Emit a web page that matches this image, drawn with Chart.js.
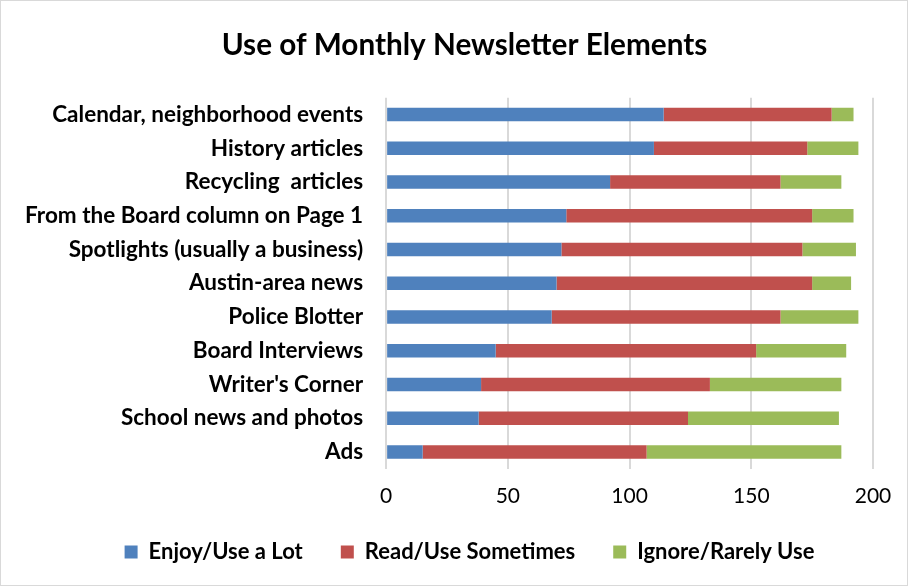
<!DOCTYPE html>
<html>
<head>
<meta charset="utf-8">
<script src="https://cdn.jsdelivr.net/npm/chart.js@4"></script>
<style>
  html, body { margin: 0; padding: 0; background: #fff; }
  #wrap { position: relative; width: 908px; height: 586px; box-sizing: border-box; border: 1px solid #d9d9d9; }
</style>
</head>
<body>
<div id="wrap"><canvas id="chart"></canvas></div>
<script>
// Datos del gráfico
const categories = [
  'Calendar, neighborhood events',
  'History articles',
  'Recycling  articles',
  'From the Board column on Page 1',
  'Spotlights (usually a business)',
  'Austin-area news',
  'Police Blotter',
  'Board Interviews',
  "Writer's Corner",
  'School news and photos',
  'Ads'
];
const enjoyValues = [114, 110, 92, 74, 72, 70, 68, 45, 39, 38, 15];
const readValues = [69, 63, 70, 101, 99, 105, 94, 107, 94, 86, 92];
const ignoreValues = [9, 21, 25, 17, 22, 16, 32, 37, 54, 62, 80];
const xTicks = [0, 50, 100, 150, 200];

const FONT = 'Lato, "Open Sans", sans-serif';
const LEGEND_SHIFT_Y = 21;
const LEGEND_SHIFT_X = 28;
const TITLE_SHIFT_X = 23;

// Ajustes finos: la leyenda ocupa menos alto y título/leyenda se desplazan a la derecha
const tweakPlugin = {
  id: 'tweak',
  beforeInit(chart) {
    const legend = chart.legend;
    const legendFit = legend.fit;
    legend.fit = function () {
      legendFit.call(this);
      this.height -= LEGEND_SHIFT_Y;
    };
    const legendDraw = legend.draw;
    legend.draw = function () {
      this.top -= LEGEND_SHIFT_Y;
      this.left += LEGEND_SHIFT_X;
      this.right += LEGEND_SHIFT_X;
      legendDraw.call(this);
      this.top += LEGEND_SHIFT_Y;
      this.left -= LEGEND_SHIFT_X;
      this.right -= LEGEND_SHIFT_X;
    };
    const title = chart.titleBlock;
    const titleDraw = title.draw;
    title.draw = function () {
      const ctx = this.ctx;
      ctx.save();
      ctx.translate(TITLE_SHIFT_X, 0);
      titleDraw.call(this);
      ctx.restore();
    };
  }
};

new Chart(document.getElementById('chart'), {
  type: 'bar',
  data: {
    labels: categories,
    datasets: [
      { label: 'Enjoy/Use a Lot', data: enjoyValues, backgroundColor: '#4f81bd' },
      { label: 'Read/Use Sometimes', data: readValues, backgroundColor: '#c0504d' },
      { label: 'Ignore/Rarely Use', data: ignoreValues, backgroundColor: '#9bbb59' }
    ]
  },
  plugins: [tweakPlugin],
  options: {
    indexAxis: 'y',
    responsive: true,
    maintainAspectRatio: false,
    animation: false,
    datasets: { bar: { categoryPercentage: 1, barPercentage: 0.4, borderWidth: 0 } },
    layout: { padding: { top: 10, right: 34, bottom: 12, left: 9 } },
    plugins: {
      title: {
        display: true,
        text: 'Use of Monthly Newsletter Elements',
        color: '#000',
        font: { family: FONT, size: 29.7, weight: 'bold' },
        padding: { top: 17, bottom: 34 }
      },
      legend: {
        position: 'bottom',
        labels: {
          color: '#000',
          font: { family: FONT, size: 22, weight: 'bold' },
          boxWidth: 13,
          boxHeight: 13,
          padding: 38
        }
      },
      tooltip: { enabled: false }
    },
    scales: {
      x: {
        stacked: true,
        min: 0,
        max: 200,
        afterBuildTicks: (axis) => { axis.ticks = xTicks.map(v => ({ value: v })); },
        grid: { color: '#d9d9d9', lineWidth: 2, drawTicks: false },
        border: { display: false },
        ticks: {
          color: '#000',
          font: { family: FONT, size: 21 },
          padding: 15
        }
      },
      y: {
        stacked: true,
        grid: { display: false },
        border: { display: false },
        ticks: {
          color: '#000',
          font: { family: FONT, size: 22.5, weight: 'bold' },
          padding: 15,
          autoSkip: false
        }
      }
    }
  }
});
</script>
</body>
</html>
